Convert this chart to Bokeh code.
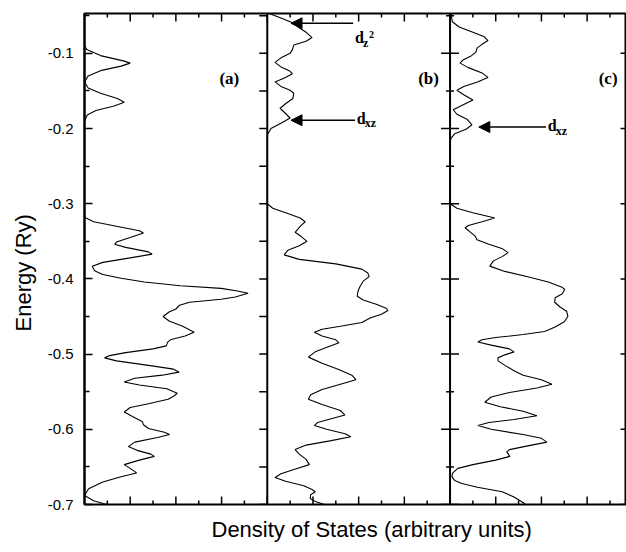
import numpy as np
from bokeh.plotting import figure
from bokeh.models import Range1d, FixedTicker, Label, Arrow, NormalHead, Span, CustomJSTickFormatter, Title
from bokeh.core.properties import value
from bokeh.embed import file_html
from bokeh.resources import INLINE

# ---------------- data ----------------
# panel (a)
E_a = [-0.047, -0.090, -0.095, -0.103, -0.110, -0.113, -0.117, -0.123, -0.130, -0.138,
       -0.146, -0.153, -0.160, -0.165, -0.170, -0.176, -0.182, -0.190, -0.318, -0.324,
       -0.330, -0.336, -0.339, -0.345, -0.351, -0.354, -0.358, -0.364, -0.367, -0.372,
       -0.378, -0.383, -0.389, -0.394, -0.399, -0.404, -0.409, -0.4126, -0.416, -0.419,
       -0.424, -0.427, -0.431, -0.435, -0.440, -0.444, -0.450, -0.456, -0.463, -0.471,
       -0.476, -0.481, -0.484, -0.489, -0.493, -0.498, -0.502, -0.505, -0.509, -0.515,
       -0.520, -0.524, -0.528, -0.532, -0.537, -0.541, -0.546, -0.552, -0.556, -0.560,
       -0.566, -0.571, -0.577, -0.583, -0.590, -0.594, -0.599, -0.604, -0.607, -0.611,
       -0.617, -0.623, -0.628, -0.633, -0.636, -0.641, -0.647, -0.652, -0.658, -0.663,
       -0.670, -0.679, -0.688, -0.695, -0.700]
D_a = [0.0, 0.0, 0.05, 0.35, 0.85, 1.0, 0.8, 0.35, 0.08, 0.0,
       0.08, 0.35, 0.72, 0.87, 0.65, 0.25, 0.06, 0.0, 0.0, 0.2,
       0.7, 1.2, 1.29, 1.0, 0.7, 0.66, 0.9, 1.4, 1.48, 1.0,
       0.4, 0.17, 0.22, 0.4, 0.8, 1.31, 2.1, 2.99, 3.35, 3.58,
       3.3, 2.99, 2.3, 2.08, 2.0, 1.85, 1.72, 1.85, 2.15, 2.40,
       2.2, 1.88, 1.82, 1.79, 1.5, 0.9, 0.55, 0.44, 0.7, 1.4,
       1.95, 2.07, 1.7, 1.1, 0.87, 1.2, 1.8, 2.03, 1.95, 1.83,
       1.4, 1.0, 0.87, 1.05, 1.27, 1.29, 1.4, 1.75, 1.86, 1.6,
       1.1, 0.96, 1.15, 1.45, 1.53, 1.2, 0.87, 1.0, 1.14, 0.8,
       0.4, 0.09, 0.0, 0.2, 0.48]

# panel (b)
E_b = [-0.047, -0.053, -0.060, -0.066, -0.072, -0.079, -0.084, -0.089, -0.095, -0.100,
       -0.106, -0.112, -0.118, -0.123, -0.127, -0.132, -0.138, -0.144, -0.149, -0.153,
       -0.160, -0.167, -0.173, -0.180, -0.186, -0.193, -0.200, -0.209, -0.300, -0.306,
       -0.313, -0.319, -0.324, -0.330, -0.338, -0.344, -0.350, -0.356, -0.362, -0.368,
       -0.374, -0.380, -0.387, -0.392, -0.397, -0.403, -0.410, -0.414, -0.418, -0.423,
       -0.428, -0.434, -0.439, -0.442, -0.447, -0.452, -0.458, -0.463, -0.467, -0.471,
       -0.476, -0.481, -0.485, -0.490, -0.497, -0.504, -0.512, -0.520, -0.528, -0.534,
       -0.540, -0.547, -0.554, -0.560, -0.567, -0.575, -0.581, -0.586, -0.591, -0.595,
       -0.600, -0.606, -0.610, -0.615, -0.621, -0.627, -0.633, -0.640, -0.647, -0.653,
       -0.659, -0.664, -0.669, -0.675, -0.680, -0.683, -0.687, -0.692, -0.696, -0.700]
D_b = [0.04, 0.3, 0.58, 0.7, 0.85, 0.98, 0.85, 0.58, 0.55, 0.5,
       0.3, 0.17, 0.3, 0.48, 0.55, 0.4, 0.17, 0.3, 0.5, 0.58,
       0.56, 0.4, 0.28, 0.4, 0.5, 0.3, 0.08, 0.0, 0.0, 0.12,
       0.45, 0.72, 0.83, 0.72, 0.61, 0.75, 0.87, 0.7, 0.45, 0.37,
       0.7, 1.5, 2.07, 2.2, 2.23, 2.1, 2.03, 2.0, 1.98, 1.97,
       2.1, 2.4, 2.6, 2.64, 2.5, 2.25, 2.07, 1.6, 1.2, 1.03,
       1.2, 1.5, 1.57, 1.35, 1.05, 0.90, 1.2, 1.55, 1.85, 1.94,
       1.6, 1.2, 0.95, 0.90, 1.2, 1.6, 1.70, 1.4, 1.1, 1.03,
       1.3, 1.7, 1.83, 1.4, 0.85, 0.61, 0.7, 0.85, 0.92, 0.6,
       0.3, 0.17, 0.4, 0.8, 0.98, 1.05, 0.95, 0.94, 1.05, 1.25]

# panel (c)
E_c = [-0.047, -0.058, -0.065, -0.072, -0.078, -0.083, -0.088, -0.093, -0.098, -0.104,
       -0.109, -0.113, -0.119, -0.126, -0.132, -0.138, -0.144, -0.149, -0.155, -0.162,
       -0.168, -0.175, -0.181, -0.188, -0.195, -0.201, -0.207, -0.213, -0.220, -0.300,
       -0.306, -0.312, -0.319, -0.324, -0.329, -0.332, -0.338, -0.343, -0.348, -0.354,
       -0.360, -0.365, -0.370, -0.376, -0.383, -0.390, -0.397, -0.404, -0.411, -0.414,
       -0.420, -0.425, -0.431, -0.437, -0.443, -0.450, -0.457, -0.464, -0.470, -0.474,
       -0.478, -0.481, -0.484, -0.488, -0.493, -0.497, -0.501, -0.505, -0.509, -0.515,
       -0.522, -0.528, -0.534, -0.540, -0.545, -0.551, -0.557, -0.564, -0.570, -0.576,
       -0.582, -0.587, -0.591, -0.595, -0.600, -0.607, -0.612, -0.617, -0.622, -0.627,
       -0.630, -0.636, -0.641, -0.647, -0.652, -0.658, -0.663, -0.668, -0.672, -0.677,
       -0.683, -0.690, -0.699]
D_c = [0.02, 0.05, 0.2, 0.5, 0.75, 0.83, 0.7, 0.59, 0.57, 0.45,
       0.28, 0.22, 0.4, 0.7, 0.83, 0.6, 0.3, 0.15, 0.3, 0.50,
       0.3, 0.07, 0.15, 0.38, 0.48, 0.35, 0.1, 0.02, 0.0, 0.0,
       0.15, 0.5, 0.98, 0.7, 0.4, 0.33, 0.45, 0.55, 0.59, 0.85,
       1.15, 1.27, 1.15, 0.95, 0.87, 1.2, 1.7, 2.15, 2.45, 2.51,
       2.45, 2.3, 2.29, 2.4, 2.55, 2.58, 2.5, 2.3, 2.07, 1.6,
       1.0, 0.7, 0.61, 0.9, 1.3, 1.40, 1.2, 1.05, 1.05, 1.2,
       1.4, 1.6, 2.0, 2.23, 1.9, 1.3, 0.9, 0.76, 1.1, 1.6,
       1.90, 1.4, 0.85, 0.61, 0.9, 1.6, 2.0, 2.12, 1.7, 1.3,
       1.24, 1.31, 1.0, 0.5, 0.17, 0.06, 0.04, 0.1, 0.26, 0.6,
       1.14, 1.4, 1.64]

PANEL_LABELS = ["(a)", "(b)", "(c)"]
Y_MAJOR = [-0.7, -0.6, -0.5, -0.4, -0.3, -0.2, -0.1]
Y_MINOR = [-0.65, -0.55, -0.45, -0.35, -0.25, -0.15, -0.05]

# arrows: panel index, tip dos, tip energy, tail dos, label, subscript, superscript
ARROW_PANEL = [1, 1, 2]
ARROW_TIP_X = [0.52, 0.52, 0.63]
ARROW_TIP_E = [-0.060, -0.189, -0.198]
ARROW_TAIL_X = [1.88, 1.92, 2.10]
ARROW_LABEL_E = [-0.079, -0.186, -0.196]
ARROW_SUB = ["z", "xz", "xz"]
ARROW_SUP = ["2", "", ""]

# ---------------- layout ----------------
PANEL_W = 4.0
X_MAX = 11.84
Y_MIN, Y_MAX = -0.7, -0.047

p = figure(width=626, height=552, x_range=Range1d(0, X_MAX), y_range=Range1d(Y_MIN, Y_MAX),
           output_backend="svg", toolbar_location=None,
           min_border_left=83, min_border_right=1, min_border_top=13, min_border_bottom=46)
p.grid.visible = False
p.xaxis.visible = False
p.outline_line_color = "black"
p.outline_line_width = 2
p.background_fill_color = "white"
p.border_fill_color = "white"

ya = p.yaxis[0]
ya.ticker = FixedTicker(ticks=Y_MAJOR, minor_ticks=Y_MINOR)
ya.formatter = CustomJSTickFormatter(code="return tick.toFixed(1)")
ya.major_tick_in = 8
ya.major_tick_out = 0
ya.minor_tick_in = 5
ya.minor_tick_out = 0
ya.major_tick_line_width = 1.5
ya.minor_tick_line_width = 1.5
ya.axis_line_width = 2
ya.major_label_standoff = 11
ya.major_label_text_font = "Liberation Sans"
ya.major_label_text_font_size = "15px"
ya.major_label_text_color = "black"

TICK = dict(length_units="screen", line_color="black", line_width=1.5)

# top and bottom ticks (inward), every unit major, every half unit minor
X_MAJOR_T = list(np.arange(1, X_MAX, 1.0))
X_MINOR_T = list(np.arange(0.5, X_MAX, 1.0))
p.ray(x=X_MAJOR_T, y=[Y_MIN] * len(X_MAJOR_T), length=8, angle=np.pi / 2, **TICK)
p.ray(x=X_MINOR_T, y=[Y_MIN] * len(X_MINOR_T), length=4, angle=np.pi / 2, **TICK)
p.ray(x=X_MAJOR_T, y=[Y_MAX] * len(X_MAJOR_T), length=8, angle=-np.pi / 2, **TICK)
p.ray(x=X_MINOR_T, y=[Y_MAX] * len(X_MINOR_T), length=4, angle=-np.pi / 2, **TICK)
# right edge ticks (inward)
p.ray(x=[X_MAX] * len(Y_MAJOR), y=Y_MAJOR, length=5, angle=np.pi, **TICK)

# panel dividers
for k in (1, 2):
    p.add_layout(Span(location=k * PANEL_W, dimension="height", line_color="black", line_width=2))

all_y = Y_MAJOR + Y_MINOR
# a/b divider: ticks pointing left
p.ray(x=[PANEL_W] * len(all_y), y=all_y, length=8, angle=np.pi, **TICK)
# b/c divider: crossing ticks
for ang in (0, np.pi):
    p.ray(x=[2 * PANEL_W] * len(Y_MAJOR), y=Y_MAJOR, length=9, angle=ang, **TICK)
    p.ray(x=[2 * PANEL_W] * len(Y_MINOR), y=Y_MINOR, length=4, angle=ang, **TICK)

# curves
for k, (E, D) in enumerate([(E_a, D_a), (E_b, D_b), (E_c, D_c)]):
    p.line(x=np.array(D) + k * PANEL_W, y=E, line_color="black", line_width=1.1)

# panel labels
PANEL_LABEL_X = [3.17, 3.53, 3.46]
p.text(x=[PANEL_LABEL_X[k] + k * PANEL_W for k in range(3)], y=[-0.134] * 3, text=PANEL_LABELS,
       text_font=value("Liberation Serif"), text_font_style="bold", text_font_size="17px",
       text_align="center", text_baseline="middle", text_color="black")

# arrows with labels
for i in range(3):
    off = ARROW_PANEL[i] * PANEL_W
    p.add_layout(Arrow(x_start=ARROW_TAIL_X[i] + off, y_start=ARROW_TIP_E[i],
                       x_end=ARROW_TIP_X[i] + off, y_end=ARROW_TIP_E[i],
                       line_color="black", line_width=1.5,
                       end=NormalHead(size=11, fill_color="black", line_color="black")))
    lx = ARROW_TAIL_X[i] + off + 0.04
    p.add_layout(Label(x=lx, y=ARROW_LABEL_E[i], text="d", text_font="Liberation Serif",
                       text_font_style="bold", text_font_size="16px", text_baseline="middle",
                       text_align="left", text_color="black"))
    p.add_layout(Label(x=lx, y=ARROW_LABEL_E[i], x_offset=8, y_offset=-5, text=ARROW_SUB[i],
                       text_font="Liberation Serif", text_font_style="bold", text_font_size="12px",
                       text_baseline="middle", text_align="left", text_color="black"))
    if ARROW_SUP[i]:
        p.add_layout(Label(x=lx, y=ARROW_LABEL_E[i], x_offset=14, y_offset=3, text=ARROW_SUP[i],
                           text_font="Liberation Serif", text_font_style="bold", text_font_size="10px",
                           text_baseline="middle", text_align="left", text_color="black"))

# axis titles as side titles
p.add_layout(Title(text="Energy (Ry)", align="left", offset=173, standoff=17,
                   text_font="Liberation Sans", text_font_size="22px", text_font_style="normal",
                   text_color="black"), "left")
p.add_layout(Title(text="Density of States (arbitrary units)", align="left", offset=127, standoff=21,
                   text_font="Liberation Sans", text_font_size="22px", text_font_style="normal",
                   text_color="black"), "below")

open("out.html", "w").write(file_html(p, INLINE))
